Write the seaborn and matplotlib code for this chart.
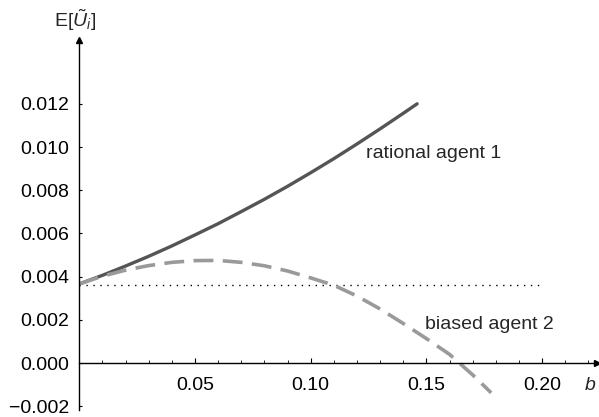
import numpy as np
import pandas as pd
import matplotlib
matplotlib.use("Agg")
import matplotlib.pyplot as plt
from matplotlib.ticker import MultipleLocator, FixedLocator
import seaborn as sns

# ---- data ----
b_rational = [0.0, 0.01, 0.02, 0.03, 0.04, 0.05, 0.06, 0.07, 0.08, 0.09,
              0.10, 0.11, 0.12, 0.13, 0.14, 0.146]
u_rational = [0.00366, 0.00406, 0.00449, 0.00494, 0.00542, 0.00593, 0.00645,
              0.00701, 0.00758, 0.00818, 0.00881, 0.00946, 0.01014, 0.01084,
              0.01156, 0.01200]

b_biased = [0.0, 0.01, 0.02, 0.03, 0.04, 0.05, 0.06, 0.07, 0.08, 0.09,
            0.10, 0.11, 0.12, 0.13, 0.14, 0.15, 0.16, 0.17, 0.178]
u_biased = [0.00366, 0.00402, 0.00430, 0.00451, 0.00466, 0.00474, 0.00475,
            0.00466, 0.00450, 0.00426, 0.00394, 0.00360, 0.00310, 0.00250,
            0.00183, 0.00113, 0.00040, -0.00055, -0.00138]

b_ref = [0.0, 0.20]
u_ref = [0.00363, 0.00363]

x_ticks = [0.05, 0.10, 0.15, 0.20]
x_ticklabels = ["0.05", "0.10", "0.15", "0.20"]
y_ticks = [-0.002, 0.000, 0.002, 0.004, 0.006, 0.008, 0.010, 0.012]
y_ticklabels = ["\u22120.002", "0.000", "0.002", "0.004", "0.006", "0.008",
                "0.010", "0.012"]

# ---- style ----
sns.set_style("white")
plt.rcParams['font.family'] = ['Liberation Sans', 'DejaVu Sans']
plt.rcParams['mathtext.fontset'] = 'custom'
plt.rcParams['mathtext.rm'] = 'Liberation Sans'
plt.rcParams['mathtext.it'] = 'Liberation Sans:italic'

fig = plt.figure(figsize=(5.99, 4.17), dpi=100)
ax = fig.add_axes([79.3 / 599, 7 / 417, (597 - 79.3) / 599, (410 - 40) / 417])

df_r = pd.DataFrame({"b": b_rational, "u": u_rational})
df_b = pd.DataFrame({"b": b_biased, "u": u_biased})
df_d = pd.DataFrame({"b": b_ref, "u": u_ref})

sns.lineplot(data=df_d, x="b", y="u", ax=ax, color="black", lw=1.0,
             dashes=False, estimator=None)
ax.lines[-1].set_dashes((1, 4))
sns.lineplot(data=df_r, x="b", y="u", ax=ax, color="#555555", lw=2.4,
             estimator=None)
sns.lineplot(data=df_b, x="b", y="u", ax=ax, color="#9a9a9a", lw=2.6,
             estimator=None)
ax.lines[-1].set_dashes((5.5, 2.6))

ax.set_xlim(0, (597 - 79.3) / 2314)
ax.set_ylim(-(410 - 363) / 21600, (363 - 40) / 21600)

for s in ["top", "right"]:
    ax.spines[s].set_visible(False)
ax.spines["bottom"].set_position(("data", 0))
ax.spines["left"].set_position(("data", 0))
for s in ["bottom", "left"]:
    ax.spines[s].set_color("black")
    ax.spines[s].set_linewidth(1.0)

ax.xaxis.set_major_locator(FixedLocator(x_ticks))
ax.set_xticklabels(x_ticklabels)
ax.xaxis.set_minor_locator(MultipleLocator(0.01))
ax.yaxis.set_major_locator(FixedLocator(y_ticks))
ax.set_yticklabels(y_ticklabels)

ax.tick_params(axis="x", which="major", direction="in", length=3.5, width=0.8,
               pad=10, labelsize=14, colors="black", bottom=True)
ax.tick_params(axis="x", which="minor", direction="in", length=2, width=0.7,
               bottom=True)
ax.tick_params(axis="y", which="major", direction="in", length=2.5, width=0.8,
               pad=7, labelsize=14, colors="black", left=True)
ax.set_xlabel("")
ax.set_ylabel("")

# arrow heads
ax.plot(1, 0, marker=">", color="black", markersize=4,
        transform=ax.get_yaxis_transform(), clip_on=False)
ax.plot(0, 1, marker="^", color="black", markersize=4,
        transform=ax.get_xaxis_transform(), clip_on=False)

# axis labels
ax.annotate("b", xy=(0.2208, 0), xytext=(0, -10), textcoords="offset points",
            ha="center", va="top", fontsize=14, style="italic")
fig.text(75 / 599, 1 - 20 / 417, r"E[$\tilde{U}_i$]", ha="center",
         va="center", fontsize=14)

# curve labels
ax.text(0.1239, 0.00972, "rational agent 1", ha="left", va="center",
        fontsize=14)
ax.text(0.1494, 0.00176, "biased agent 2", ha="left", va="center",
        fontsize=14)

fig.savefig("out.png", dpi=100)
